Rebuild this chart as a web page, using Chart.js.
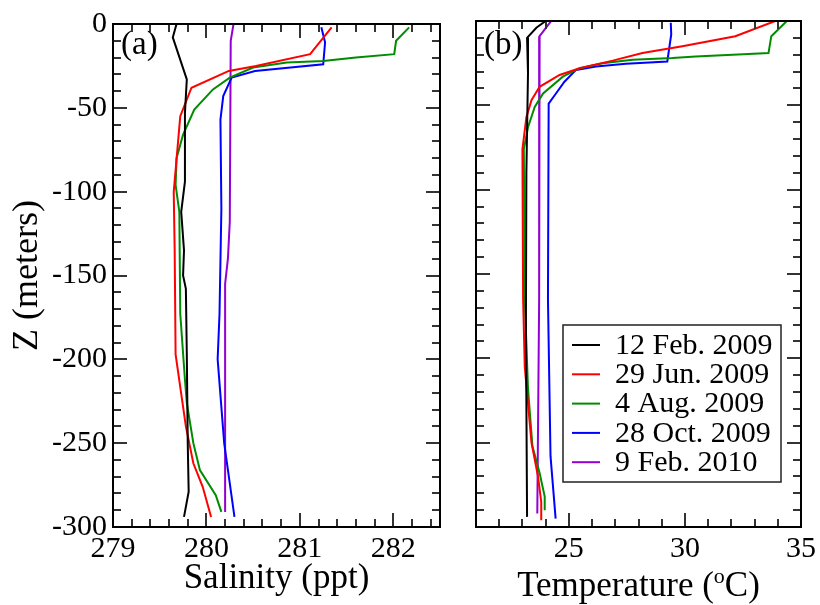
<!DOCTYPE html>
<html>
<head>
<meta charset="utf-8">
<script src="https://cdn.jsdelivr.net/npm/chart.js@4.4.0/dist/chart.umd.min.js"></script>
<style>
  html, body { margin: 0; padding: 0; background: #fff; }
  #wrap { position: relative; width: 820px; height: 605px; }
  .panel { position: absolute; top: 0; }
  #pa { left: 0; }
  #pb { left: 455px; }
</style>
</head>
<body>
<div id="wrap">
  <div class="panel" id="pa"><canvas id="chart-sal" width="455" height="605"></canvas></div>
  <div class="panel" id="pb"><canvas id="chart-temp" width="365" height="605"></canvas></div>
</div>
<script>
const seriesLabels = ['12 Feb. 2009', '29 Jun. 2009', '4 Aug. 2009', '28 Oct. 2009', '9 Feb. 2010'];
const seriesColors = ['#000000', '#ff0000', '#008c00', '#0000ff', '#9400d3'];

const depthTicks = [0, -50, -100, -150, -200, -250, -300];
const salTicks = [279, 280, 281, 282];
const tempTicks = [25, 30, 35];

// salinity profiles (ppt) vs depth (m)
const salZ0 = [0, -8, -33, -53, -94, -112, -135, -150, -158, -197, -250, -279, -294];
const sal0  = [279.68, 279.64, 279.79, 279.77, 279.77, 279.73, 279.76, 279.75, 279.78, 279.79, 279.80, 279.81, 279.76];
const salZ1 = [-2, -18, -25, -28, -38, -55, -100, -134, -197, -240, -262, -276, -294];
const sal1  = [281.34, 281.11, 280.53, 280.24, 279.84, 279.72, 279.65, 279.66, 279.67, 279.78, 279.86, 279.96, 280.05];
const salZ2 = [-2, -10, -18, -20, -22, -23, -26, -32, -39, -51, -66, -80, -96, -112, -173, -212, -226, -250, -266, -281, -291];
const sal2  = [282.17, 282.03, 282.01, 281.60, 281.25, 280.86, 280.50, 280.25, 280.07, 279.87, 279.75, 279.68, 279.67, 279.71, 279.72, 279.77, 279.79, 279.86, 279.93, 280.10, 280.16];
const salZ3 = [-2, -11, -24, -28, -32, -43, -57, -110, -173, -200, -250, -294];
const sal3  = [281.23, 281.27, 281.25, 280.52, 280.27, 280.18, 280.15, 280.16, 280.14, 280.12, 280.19, 280.30];
const salZ4 = [0, -10, -118, -140, -155, -291];
const sal4  = [280.29, 280.26, 280.25, 280.23, 280.20, 280.20];

// temperature profiles (deg C) vs depth (m)
const tempZ0 = [0, -4, -10, -31, -90, -180, -294];
const temp0  = [24.0, 23.6, 23.2, 23.24, 23.17, 23.15, 23.2];
const tempZ1 = [0, -9, -15, -19, -23.5, -28, -32, -39, -47, -57, -76, -165, -205, -250, -270, -285, -296];
const temp1  = [33.89, 32.17, 29.89, 28.17, 26.89, 25.46, 24.6, 23.74, 23.39, 23.17, 23.0, 23.03, 23.1, 23.39, 23.67, 23.81, 23.81];
const tempZ2 = [0, -9, -19, -19.5, -21, -22, -23, -25, -28, -33, -43, -51, -63, -76, -165, -218, -252, -268, -282, -290];
const temp2  = [34.39, 33.72, 33.6, 32.74, 30.46, 29.46, 27.74, 26.46, 25.46, 24.74, 23.89, 23.53, 23.24, 23.06, 23.1, 23.24, 23.43, 23.74, 23.96, 23.96];
const tempZ3 = [-1, -8, -24, -25.4, -27, -29, -36, -44, -49, -165, -258, -295];
const temp3  = [29.39, 29.41, 29.24, 27.46, 26.17, 25.31, 24.81, 24.39, 24.13, 24.1, 24.21, 24.43];
const tempZ4 = [0, -9, -165, -292];
const temp4  = [24.24, 23.74, 23.72, 23.64];

const salSeries = [[sal0, salZ0], [sal1, salZ1], [sal2, salZ2], [sal3, salZ3], [sal4, salZ4]];
const tempSeries = [[temp0, tempZ0], [temp1, tempZ1], [temp2, tempZ2], [temp3, tempZ3], [temp4, tempZ4]];

const FONT = "'Liberation Serif', 'Times New Roman', serif";

function makeDatasets(series) {
  return series.map(([xs, zs], i) => ({
    label: seriesLabels[i],
    data: xs.map((v, k) => ({ x: v, y: zs[k] })),
    borderColor: seriesColors[i],
    backgroundColor: seriesColors[i],
    borderWidth: 2,
    showLine: true,
    pointRadius: 0,
    tension: 0,
  }));
}

// box + inward ticks on all four sides
const framePlugin = {
  id: 'frame',
  afterDatasetsDraw(chart, args, opts) {
    const { ctx, chartArea: a, scales: { x, y } } = chart;
    ctx.save();
    ctx.strokeStyle = '#333';
    ctx.lineWidth = 2;
    const steps = (min, max, step) => {
      const n = Math.floor((max - min) / step + 1e-9);
      return Array.from({ length: n + 1 }, (_, i) => min + i * step);
    };
    const isMajor = (v, m) => Math.abs(v / m - Math.round(v / m)) < 1e-6;
    ctx.beginPath();
    steps(x.min, x.max, opts.xMinor).forEach(v => {
      const px = Math.round(x.getPixelForValue(v));
      const len = isMajor(v, opts.xMajor) ? 14 : 8;
      ctx.moveTo(px, a.bottom); ctx.lineTo(px, a.bottom - len);
      ctx.moveTo(px, a.top); ctx.lineTo(px, a.top + len);
    });
    steps(y.min, y.max, 10).forEach(v => {
      const py = Math.round(y.getPixelForValue(v));
      const len = isMajor(v, 50) ? 14 : 8;
      ctx.moveTo(a.left, py); ctx.lineTo(a.left + len, py);
      ctx.moveTo(a.right, py); ctx.lineTo(a.right - len, py);
    });
    ctx.stroke();
    ctx.strokeStyle = '#000';
    ctx.lineWidth = 2;
    ctx.strokeRect(a.left, a.top, a.right - a.left, a.bottom - a.top);

    // panel label
    ctx.fillStyle = '#000';
    ctx.font = `33px ${FONT}`;
    ctx.textBaseline = 'alphabetic';
    ctx.textAlign = 'left';
    ctx.fillText(opts.panel, a.left + 8, 54);
    ctx.restore();
  }
};

const titlePlugin = {
  id: 'titles',
  afterDraw(chart, args, opts) {
    const { ctx, chartArea: a } = chart;
    const cx = (a.left + a.right) / 2;
    ctx.save();
    ctx.fillStyle = '#000';
    ctx.textBaseline = 'alphabetic';
    if (opts.sup) {
      // "Temperature (", superscript "o", "C)"
      const big = `35px ${FONT}`, small = `22px ${FONT}`;
      ctx.font = big;
      const w1 = ctx.measureText(opts.pre).width;
      const w3 = ctx.measureText(opts.post).width;
      ctx.font = small;
      const w2 = ctx.measureText(opts.sup).width;
      let x0 = cx - (w1 + w2 + w3) / 2;
      ctx.textAlign = 'left';
      ctx.font = big; ctx.fillText(opts.pre, x0, opts.baseY);
      ctx.font = small; ctx.fillText(opts.sup, x0 + w1, opts.baseY - 13);
      ctx.font = big; ctx.fillText(opts.post, x0 + w1 + w2, opts.baseY);
    } else {
      ctx.font = `35px ${FONT}`;
      ctx.textAlign = 'center';
      ctx.fillText(opts.pre, cx, opts.baseY);
    }
    if (opts.yTitle) {
      ctx.translate(37, (a.top + a.bottom) / 2);
      ctx.rotate(-Math.PI / 2);
      ctx.font = `36px ${FONT}`;
      ctx.textAlign = 'center';
      ctx.fillText(opts.yTitle, 0, 0);
    }
    ctx.restore();
  }
};

const legendPlugin = {
  id: 'boxLegend',
  afterDraw(chart, args, opts) {
    if (!opts.box) return;
    const { ctx } = chart;
    const [x0, y0, x1, y1] = opts.box;
    ctx.save();
    ctx.fillStyle = '#fff';
    ctx.fillRect(x0, y0, x1 - x0, y1 - y0);
    ctx.strokeStyle = '#222';
    ctx.lineWidth = 1.5;
    ctx.strokeRect(x0, y0, x1 - x0, y1 - y0);
    ctx.font = `30px ${FONT}`;
    ctx.textBaseline = 'middle';
    ctx.textAlign = 'left';
    chart.data.datasets.forEach((ds, i) => {
      const yy = y0 + 20 + i * 29.3;
      ctx.strokeStyle = ds.borderColor;
      ctx.lineWidth = 2;
      ctx.beginPath();
      ctx.moveTo(x0 + 9, yy); ctx.lineTo(x0 + 37, yy);
      ctx.stroke();
      ctx.fillStyle = '#000';
      ctx.fillText(ds.label, x0 + 52, yy + 1);
    });
    ctx.restore();
  }
};

function axisFont() {
  return { family: FONT, size: 30 };
}

function makeChart(canvasId, datasets, cfg) {
  return new Chart(document.getElementById(canvasId), {
    type: 'scatter',
    data: { datasets },
    plugins: [framePlugin, titlePlugin, legendPlugin],
    options: {
      responsive: false,
      animation: false,
      events: [],
      layout: { padding: cfg.padding },
      plugins: {
        legend: { display: false },
        tooltip: { enabled: false },
        frame: cfg.frame,
        titles: cfg.titles,
        boxLegend: cfg.legend || {},
      },
      scales: {
        x: {
          type: 'linear',
          min: cfg.xMin, max: cfg.xMax,
          grid: { display: false, drawTicks: false },
          border: { display: false },
          afterBuildTicks: s => { s.ticks = cfg.xTicks.map(v => ({ value: v })); },
          afterFit: s => { s.height = 78; },
          ticks: { font: axisFont(), color: '#000', padding: 4, maxRotation: 0, autoSkip: false, callback: v => String(v) },
        },
        y: {
          type: 'linear',
          min: -300, max: 0,
          display: cfg.showY,
          grid: { display: false, drawTicks: false },
          border: { display: false },
          afterBuildTicks: s => { s.ticks = depthTicks.map(v => ({ value: v })); },
          afterFit: s => { s.width = cfg.showY ? 113 : 0; },
          ticks: { font: axisFont(), color: '#000', padding: 6, autoSkip: false, callback: v => String(v) },
        },
      },
    },
  });
}

makeChart('chart-sal', makeDatasets(salSeries), {
  padding: { left: 0, top: 21, right: 15, bottom: 0 },
  xMin: 279, xMax: 282.5, xTicks: salTicks, showY: true,
  frame: { xMinor: 0.2, xMajor: 1, panel: '(a)' },
  titles: { pre: 'Salinity (ppt)', baseY: 588, yTitle: 'Z (meters)' },
});

makeChart('chart-temp', makeDatasets(tempSeries), {
  padding: { left: 21, top: 21, right: 18, bottom: 0 },
  xMin: 21, xMax: 35, xTicks: tempTicks, showY: false,
  frame: { xMinor: 1, xMajor: 5, panel: '(b)' },
  titles: { pre: 'Temperature (', sup: 'o', post: 'C)', baseY: 596 },
  legend: { box: [108, 325, 326, 482] },
});
</script>
</body>
</html>
